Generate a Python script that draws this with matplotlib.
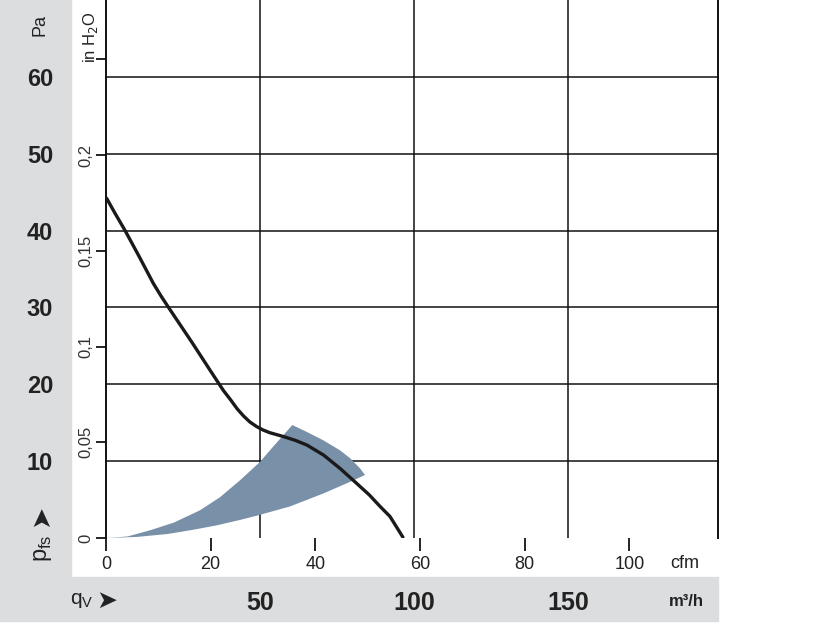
import numpy as np
import matplotlib.pyplot as plt
from matplotlib.patches import Rectangle

# -----------------------------
# Data (q in m³/h, p in Pa)
# -----------------------------
curve_q = [0.2, 3.0, 6.2, 10.8, 15.4, 18.0, 20.8, 28.0, 34.0, 38.1, 40.6, 42.6, 44.6, 46.7,
           48.9, 51.0, 53.2, 57.6, 61.5, 65.2, 70.6, 76.0, 81.4, 85.5, 89.0, 92.2, 96.4]
curve_p = [44.2, 42.2, 40.0, 36.6, 33.1, 31.4, 29.7, 25.4, 21.7, 19.2, 17.9, 16.8, 15.9, 15.1,
           14.5, 14.05, 13.7, 13.2, 12.7, 12.1, 10.8, 9.05, 7.1, 5.6, 4.1, 2.8, 0.1]

# operating range: upper edge, outer arc, lower edge back to origin
range_upper_q = [0, 7, 14.3, 22, 30.5, 37, 43.5, 50, 54.3, 60.5]
range_upper_p = [0, 0.2, 1.0, 2.0, 3.6, 5.3, 7.5, 9.9, 11.9, 14.7]
range_arc_q = [65.2, 70.6, 76.0, 79.2, 82.5, 84.1]
range_arc_p = [13.8, 12.7, 11.4, 10.4, 9.05, 8.2]
range_lower_q = [79.2, 70.6, 59.7, 48.9, 43.5, 36, 28, 20, 10, 0]
range_lower_p = [7.3, 5.8, 4.1, 2.9, 2.35, 1.65, 1.05, 0.52, 0.14, 0]

pa_ticks = [10, 20, 30, 40, 50, 60]
m3h_ticks = [50, 100, 150]
cfm_ticks = [0, 20, 40, 60, 80, 100]
inh2o_ticks = [0, 0.05, 0.1, 0.15, 0.2, 0.25]
inh2o_labels = ['0', '0,05', '0,1', '0,15', '0,2', '']

W, H = 816, 624
GRAY = '#dcdddf'
FAM = ['Liberation Sans Narrow', 'Liberation Sans', 'DejaVu Sans']

def fx(x):
    return x / W

def fy(y):
    return 1 - y / H

fig = plt.figure(figsize=(W / 100, H / 100), dpi=100)
fig.patches.append(Rectangle((0, fy(577)), fx(71), 1 - fy(577), transform=fig.transFigure,
                             color=GRAY, zorder=-1))
fig.patches.append(Rectangle((0, fy(621)), fx(718), fy(577) - fy(621), transform=fig.transFigure,
                             color=GRAY, zorder=-1))

ax = fig.add_axes([fx(106), fy(538), fx(718 - 106), 1 - fy(538)])
ax.set_facecolor('none')
ax.set_xlim(0, (718 - 106) / 3.08)
ax.set_ylim(0, 70)

for s in ['top', 'bottom']:
    ax.spines[s].set_visible(False)
for s in ['left', 'right']:
    ax.spines[s].set_linewidth(1.4)
    ax.spines[s].set_color('#111111')

ax.set_yticks(pa_ticks)
ax.set_yticklabels([str(v) for v in pa_ticks], fontsize=17, fontweight='bold',
                   color='#222222', family=FAM)
ax.tick_params(axis='y', length=0, pad=38)
ax.set_xticks(m3h_ticks)
ax.set_xticklabels([str(v) for v in m3h_ticks], fontsize=18, fontweight='bold',
                   color='#222222', family=FAM)
ax.tick_params(axis='x', length=0, pad=38)
ax.grid(True, color='#111111', linewidth=1.1)

# secondary scales: in H2O on the left, cfm at the bottom
sy = ax.secondary_yaxis('left', functions=(lambda p: p / 249.089, lambda i: i * 249.089))
sy.set_yticks(inh2o_ticks)
sy.set_yticklabels(inh2o_labels, rotation=90, va='center', fontsize=12,
                   color='#333333', family=FAM)
sy.tick_params(length=7, width=1.2, pad=2)
sy.spines['left'].set_visible(False)

sx = ax.secondary_xaxis('bottom', functions=(lambda q: q / 1.699, lambda c: c * 1.699))
sx.set_xticks(cfm_ticks)
sx.set_xticklabels([str(v) for v in cfm_ticks], fontsize=13, color='#222222', family=FAM)
sx.tick_params(length=9, width=1.2, pad=4)
sx.spines['bottom'].set_visible(False)

# operating range and characteristic curve
poly_q = range_upper_q + range_arc_q + range_lower_q
poly_p = range_upper_p + range_arc_p + range_lower_p
ax.fill(poly_q, poly_p, color='#7890a8', lw=0, zorder=2)
ax.plot(curve_q, curve_p, color='#1a1a1a', lw=2.4, solid_capstyle='round',
        solid_joinstyle='round', zorder=3)

# axis names
fig.text(fx(40), fy(25), 'Pa', rotation=90, ha='center', va='center', fontsize=13,
         color='#222222', family=FAM)
fig.text(fx(90), fy(37), r'in H$_2$O', rotation=90, ha='center', va='center', fontsize=12,
         color='#222222', family=FAM)
fig.text(fx(43), fy(562), r'p$_\mathregular{fs}$', rotation=90, ha='center', va='bottom',
         fontsize=17, color='#222222', family=FAM)
fig.text(fx(41), fy(516), '➤', rotation=90, ha='center', va='center', fontsize=19,
         color='#222222', family=['DejaVu Sans'])
fig.text(fx(94), fy(600), r'q$_\mathregular{V}$', ha='right', va='center', fontsize=15,
         color='#222222', family=FAM)
fig.text(fx(96), fy(601), '➤', ha='left', va='center', fontsize=18,
         color='#222222', family=['DejaVu Sans'])
fig.text(fx(670), fy(564), 'cfm', ha='left', va='center', fontsize=13,
         color='#222222', family=FAM)
fig.text(fx(669), fy(601), 'm³/h', ha='left', va='center', fontsize=12, fontweight='bold',
         color='#222222', family=FAM)

fig.savefig('out.png', dpi=100)
